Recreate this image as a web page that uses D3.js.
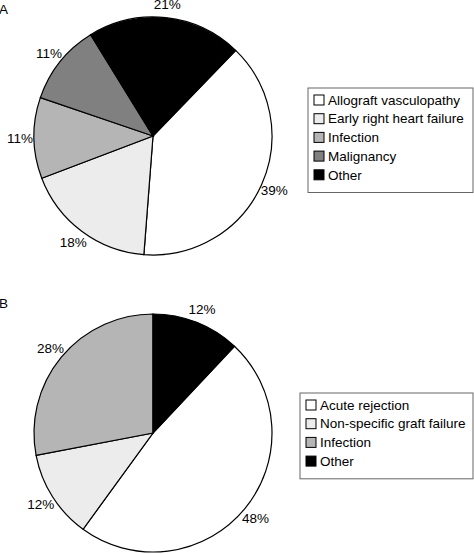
<!DOCTYPE html><html><head><meta charset="utf-8"><script src="https://cdn.jsdelivr.net/npm/d3@7"></script>
<style>body{margin:0;background:#fff}text{font-family:"Liberation Sans",Arial,sans-serif}</style></head><body>
<svg id="c" width="474" height="554"></svg>
<script>
const catsA=["Allograft vasculopathy","Early right heart failure","Infection","Malignancy","Other"];
const valsA=[39,18,11,11,21];
const colsA=["#ffffff","#ececec","#b5b5b5","#808080","#000000"];
const orderA=[0,1,2,3,4];
const catsB=["Acute rejection","Non-specific graft failure","Infection","Other"];
const valsB=[48,12,28,12];
const colsB=["#ffffff","#ececec","#b5b5b5","#000000"];
const orderB=[1,2,3,0];
const svg=d3.select("#c");
function pie(cats,vals,cols,order,o){
  const g=svg.append("g").attr("transform",`translate(${o.cx},${o.cy})`);
  const data=vals.map((v,i)=>({v,i}));
  const arcs=d3.pie().value(d=>d.v).sort((a,b)=>order[a.i]-order[b.i]).startAngle(o.start).endAngle(o.start+2*Math.PI)(data);
  const arc=d3.arc().innerRadius(0).outerRadius(o.r);
  g.selectAll("path").data(arcs).join("path").attr("d",arc).attr("fill",d=>cols[d.data.i]).attr("stroke","#000").attr("stroke-width",1.2);
  const la=d3.arc().innerRadius(o.r+14).outerRadius(o.r+14);
  g.selectAll("text").data(arcs).join("text").attr("transform",d=>`translate(${la.centroid(d)})`)
   .attr("text-anchor","middle").attr("dy","0.35em").attr("font-size",13.5).text(d=>d.data.v+"%");
  const lg=svg.append("g").attr("transform",`translate(${o.lx},${o.ly})`);
  lg.append("rect").attr("width",o.lw).attr("height",cats.length*18.7+11).attr("fill","#fff").attr("stroke","#666");
  cats.forEach((c,i)=>{
    lg.append("rect").attr("x",6).attr("y",7+i*18.7).attr("width",10).attr("height",10).attr("fill",cols[i]).attr("stroke","#000");
    lg.append("text").attr("x",20).attr("y",12+i*18.7).attr("dy","0.35em").attr("font-size",13.5).text(c);
  });
  svg.append("text").attr("x",-1).attr("y",o.ty).attr("font-size",13.5).text(o.title);
}
pie(catsA,valsA,colsA,orderA,{cx:153,cy:136,r:119,start:44*Math.PI/180,lx:308,ly:88,lw:165,ty:14,title:"A"});
pie(catsB,valsB,colsB,orderB,{cx:153,cy:433,r:119,start:0,lx:300,ly:393,lw:173,ty:308,title:"B"});
</script></body></html>
